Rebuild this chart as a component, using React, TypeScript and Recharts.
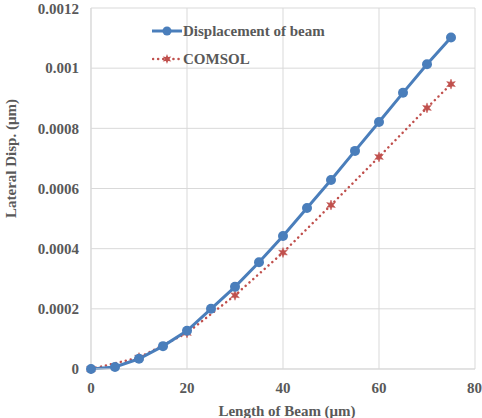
import React from 'react'
import { LineChart, Line, XAxis, YAxis, CartesianGrid } from 'recharts'

// beam position (um)
const lengths = [0, 5, 10, 15, 20, 25, 30, 35, 40, 45, 50, 55, 60, 65, 70, 75]
// model displacement (um)
const beamDisp = [
  0, 0.0000066, 0.000034, 0.000076, 0.000127, 0.0002, 0.000273, 0.000355,
  0.000442, 0.000535, 0.000628, 0.000725, 0.000821, 0.000918, 0.001013, 0.001102,
]
// COMSOL values, only sampled every 10 um plus the tip
const comsolDisp = [
  0, null, 0.000038, null, 0.00012, null, 0.000245, null,
  0.000387, null, 0.000545, null, 0.000705, null, 0.000868, 0.000947,
]
const xTicks = [0, 20, 40, 60, 80]
const yTicks = [0, 0.0002, 0.0004, 0.0006, 0.0008, 0.001, 0.0012]

const BLUE = '#4a7ebb'
const RED = '#c0504d'
const TEXT = '#595959'
const FONT = '"Liberation Serif", "Times New Roman", serif'

const data = lengths.map((x, i) => ({ x, beam: beamDisp[i], comsol: comsolDisp[i] }))

const StarDot = (props: any) => {
  const { cx, cy, index } = props
  if (cx == null || cy == null || comsolDisp[index] == null) return <g key={index} />
  const pts: string[] = []
  for (let k = 0; k < 12; k++) {
    const r = k % 2 === 0 ? 5 : 2.2
    const a = (Math.PI / 6) * k - Math.PI / 2
    pts.push(`${cx + r * Math.cos(a)},${cy + r * Math.sin(a)}`)
  }
  return <polygon key={index} points={pts.join(' ')} fill={RED} stroke={RED} strokeWidth={0.5} />
}

const Legend = () => (
  <div style={{ position: 'absolute', left: 152, top: 20, fontFamily: FONT, fontWeight: 'bold', fontSize: 15, color: TEXT }}>
    <div style={{ display: 'flex', alignItems: 'center', height: 22 }}>
      <svg width={31} height={12}>
        <line x1={0} y1={6} x2={30} y2={6} stroke={BLUE} strokeWidth={3} />
        <circle cx={15} cy={6} r={4.5} fill={BLUE} />
      </svg>
      <span>Displacement of beam</span>
    </div>
    <div style={{ display: 'flex', alignItems: 'center', height: 22, marginTop: 6 }}>
      <svg width={31} height={12}>
        <line x1={1} y1={6} x2={30} y2={6} stroke={RED} strokeWidth={2.5} strokeDasharray="0.1 5" strokeLinecap="round" />
        <polygon points="15,1 16.1,4 19.3,3.5 17.2,6 19.3,8.5 16.1,8 15,11 13.9,8 10.7,8.5 12.8,6 10.7,3.5 13.9,4" fill={RED} />
      </svg>
      <span>COMSOL</span>
    </div>
  </div>
)

export default function App() {
  const tickStyle = { fontFamily: FONT, fontWeight: 'bold' as const, fontSize: 15, fill: TEXT }
  return (
    <div style={{ position: 'relative', width: 482, height: 418, background: '#fff' }}>
      <style>{'body { margin: 0; }'}</style>
      <LineChart width={482} height={418} data={data} margin={{ top: 8, right: 7, left: 0, bottom: 0 }}>
        <CartesianGrid stroke="#d9d9d9" strokeWidth={1} />
        <XAxis
          dataKey="x"
          type="number"
          domain={[0, 80]}
          ticks={xTicks}
          height={49}
          tickSize={0}
          tickMargin={13}
          tick={tickStyle}
          stroke="#d9d9d9"
          label={{ value: 'Length of Beam (μm)', position: 'insideBottom', offset: 2, dx: 4, style: { ...tickStyle } }}
        />
        <YAxis
          type="number"
          domain={[0, 0.0012]}
          ticks={yTicks}
          width={91}
          tickSize={0}
          tickMargin={12}
          tick={tickStyle}
          stroke="#d9d9d9"
          tickFormatter={(v: number) => (v === 0 ? '0' : String(Number(v.toPrecision(2))))}
          label={{ value: 'Lateral Disp. (μm)', angle: -90, position: 'insideLeft', offset: 11, dy: -30, style: { ...tickStyle, textAnchor: 'middle' } }}
        />
        <Line
          dataKey="comsol"
          stroke={RED}
          strokeWidth={2.5}
          strokeDasharray="0.1 5"
          strokeLinecap="round"
          connectNulls
          dot={<StarDot />}
          activeDot={false}
          isAnimationActive={false}
        />
        <Line
          dataKey="beam"
          stroke={BLUE}
          strokeWidth={3}
          dot={{ r: 5, fill: BLUE, stroke: BLUE, strokeWidth: 0 }}
          activeDot={false}
          isAnimationActive={false}
        />
      </LineChart>
      <Legend />
    </div>
  )
}
